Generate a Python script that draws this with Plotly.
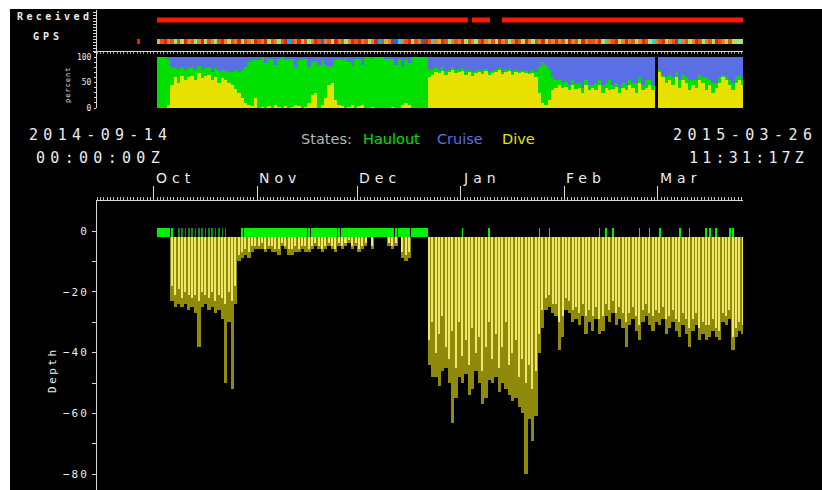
import plotly.graph_objects as go
from datetime import datetime, timedelta

# ---------------------------------------------------------------- data
RANGE_START = "2014-09-14 00:00:00"
RANGE_END = "2015-03-26 11:31:17"

month_ticks = ["2014-10-01", "2014-11-01", "2014-12-01",
               "2015-01-01", "2015-02-01", "2015-03-01"]
month_labels = ["Oct", "Nov", "Dec", "Jan", "Feb", "Mar"]

# periods with messages received
received_windows = [("2014-10-02 00:00", "2015-01-03 02:00"),
                    ("2015-01-04 07:00", "2015-01-09 17:00"),
                    ("2015-01-13 07:00", RANGE_END)]

# GPS fixes per day, starting 2014-09-26
GPS_FIRST_DAY = datetime(2014, 9, 26)
gps_fixes = [10, None, None, None, None, None,
             7, 9, 10, 8, 9, 5, 9, 6, 10, 8,
             9, 5, 8, 10, 6, 9, 8, 5, 9, 10,
             8, 6, 9, 8, 10, 5, 9, 8, 7, 10,
             9, 8, 10, 6, 9, 8, 5, 9, 10, 2,
             9, 8, 10, 7, 9, 5, 8, 10, 9, 1,
             8, 9, 6, 10, 8, 9, 5, 8, 10, 9,
             10, 8, 9, 6, 8, 10, 2, 9, 7, 8,
             10, 1, 3, 8, 9, 10, 6, 9, 8, 1,
             10, 9, 3, 8, 7, 10, 9, 5, 8, 9,
             8, 10, 6, 9, 8, 5, 9, 10, 8, 7,
             9, 6, 10, 8, 9, 5, 8, 10, 9, 6,
             10, 8, 5, 9, 8, 10, 6, 9, 8, 10,
             8, 9, 5, 10, 8, 9, 6, 10, 8, 9,
             9, 8, 10, 6, 3, 8, 9, 10, 6, 8,
             10, 8, 9, 6, 8, 10, 9, 5, 3, 8,
             9, 10, 6, 8, 9, 10, 3, 8, 9, 6,
             8, 10, 9, 5, 8, 9, 6, 10, 9, 8,
             6, 9, 6, 6, 5, 6]

# daily series below start on 2014-10-02
FIRST_DAY = datetime(2014, 10, 2)

# percent of each day spent diving / cruising (haulout is the rest)
dive_pct = [0, 0, 0, 5, 45, 60, 50, 62, 55, 60,
            62, 55, 68, 58, 62, 65, 55, 60, 50, 58,
            55, 50, 45, 38, 30, 20, 10, 5, 3, 20,
            0, 2, 0, 3, 0, 5, 2, 0, 3, 0,
            2, 5, 3, 0, 2, 10, 25, 30, 0, 5,
            20, 45, 50, 15, 5, 3, 0, 2, 5, 0,
            3, 5, 0, 0, 2, 0, 0, 0, 0, 0,
            2, 0, 0, 5, 10, 5, 0, 0, 0, 0,
            0, 60, 65, 70, 68, 72, 65, 70, 75, 68,
            70, 72, 65, 70, 62, 68, 70, 66, 72, 64,
            68, 70, 74, 66, 70, 72, 65, 70, 68, 72,
            70, 66, 68, 60, 30, 10, 5, 15, 35, 40,
            45, 40, 42, 35, 45, 38, 40, 30, 45, 35,
            40, 35, 45, 30, 40, 35, 38, 42, 30, 40,
            35, 45, 40, 30, 50, 35, 40, 45, 35, None,
            70, 60, 50, 55, 45, 60, 40, 55, 50, 35,
            45, 40, 55, 50, 35, 45, 30, 40, 50, 60,
            55, 45, 35, 50, 55, 45]
cruise_pct = [0, 0, 0, 5, 20, 22, 25, 20, 25, 22,
              20, 25, 18, 25, 22, 20, 30, 22, 28, 25,
              28, 30, 30, 25, 30, 25, 20, 10, 5, 5,
              5, 0, 12, 3, 3, 15, 3, 0, 5, 3,
              3, 20, 5, 3, 3, 20, 10, 8, 15, 5,
              15, 20, 18, 5, 3, 5, 3, 10, 18, 3,
              3, 15, 0, 0, 3, 0, 0, 0, 2, 3,
              3, 15, 3, 20, 5, 12, 0, 0, 0, 0,
              0, 25, 25, 22, 25, 20, 28, 25, 20, 25,
              25, 22, 28, 25, 30, 27, 25, 28, 24, 30,
              28, 25, 22, 30, 26, 24, 30, 25, 28, 25,
              27, 30, 26, 30, 20, 10, 15, 25, 40, 45,
              45, 50, 48, 55, 45, 52, 50, 60, 45, 55,
              55, 50, 45, 55, 50, 45, 55, 50, 60, 50,
              55, 45, 50, 50, 40, 55, 45, 45, 55, None,
              25, 35, 40, 35, 40, 30, 45, 35, 40, 45,
              45, 45, 35, 40, 40, 45, 50, 50, 40, 35,
              40, 45, 50, 40, 38, 45]

# hours hauled out per day
haulout_hours = [20, 24, 24, 24, 12, 0, 3, 3, 3, 3,
                 3, 3, 3, 3, 3, 3, 3, 3, 3, 3,
                 3, 0, 0, 0, 0, 10, 24, 24, 18, 24,
                 24, 18, 24, 24, 24, 24, 24, 18, 24, 24,
                 18, 24, 24, 24, 24, 16, 18, 24, 24, 24,
                 24, 24, 16, 18, 16, 24, 24, 24, 18, 24,
                 24, 18, 24, 24, 24, 24, 24, 24, 24, 24,
                 24, 18, 24, 24, 24, 18, 24, 24, 24, 24,
                 24, 0, 0, 0, 0, 0, 0, 0, 0, 0,
                 0, 5, 0, 0, 0, 0, 0, 0, 0, 5,
                 0, 0, 0, 0, 0, 0, 0, 0, 0, 0,
                 0, 0, 0, 0, 5, 0, 0, 6, 0, 0,
                 0, 0, 0, 0, 0, 0, 0, 0, 0, 0,
                 0, 0, 6, 0, 5, 0, 6, 0, 0, 0,
                 0, 0, 0, 0, 6, 0, 0, 5, 0, 0,
                 6, 0, 0, 0, 0, 0, 6, 0, 0, 5,
                 0, 0, 0, 0, 6, 5, 0, 7, 0, 0,
                 0, 6, 5, 0, 0, 0]

# deepest dive of the day (m)
depth_max = [None, None, None, None, -23, -25, -24, -25, -24, -26,
             -25, -27, -38, -25, -24, -26, -25, -27, -26, -29,
             -50, -30, -52, -24, -10, -9, -8, -9, -7, -6,
             -6, -6, -7, -6, -7, -7, -8, -5, -6, -8,
             -8, -7, -7, -6, -7, -7, -6, -5, -6, -7,
             -6, -5, -6, -7, -5, -6, -5, -4, -6, -5,
             -7, -6, -5, None, -6, None, None, None, None, -5,
             -6, -5, None, -9, -10, -9, None, None, None, None,
             None, -44, -48, -48, -51, -46, -45, -50, -63, -55,
             -48, -50, -47, -54, -52, -46, -50, -57, -55, -49,
             -50, -48, -53, -50, -52, -54, -56, -55, -58, -60,
             -80, -62, -69, -61, -40, -32, -26, -25, -27, -28,
             -39, -35, -26, -27, -30, -29, -31, -28, -34, -30,
             -33, -29, -34, -33, -28, -30, -27, -31, -29, -32,
             -38, -31, -29, -33, -36, -30, -28, -31, -33, -30,
             -31, -29, -34, -32, -30, -33, -35, -31, -34, -38,
             -33, -31, -36, -34, -36, -35, -33, -35, -36, -30,
             -31, -29, -39, -35, -33, -34]

# typical dive depth of the day (m)
depth_typ = [None, None, None, None, -18, -21, -19, -22, -20, -21,
             -22, -21, -23, -20, -21, -22, -20, -23, -21, -22,
             -24, -20, -23, -18, -8, -7, -6, -7, -5, -5,
             -5, -4, -6, -5, -5, -6, -6, -4, -5, -6,
             -6, -5, -6, -5, -5, -6, -5, -4, -5, -6,
             -5, -4, -5, -6, -4, -5, -4, -3, -5, -4,
             -6, -5, -4, None, -5, None, None, None, None, -4,
             -5, -4, None, -7, -8, -7, None, None, None, None,
             None, -36, -30, -40, -34, -28, -38, -42, -33, -45,
             -30, -41, -36, -44, -32, -40, -35, -46, -38, -30,
             -42, -34, -45, -38, -30, -44, -40, -36, -48, -42,
             -50, -44, -52, -46, -34, -26, -22, -21, -24, -24,
             -30, -28, -22, -23, -26, -25, -27, -24, -28, -26,
             -28, -25, -29, -28, -24, -26, -23, -27, -25, -27,
             -30, -27, -25, -28, -31, -26, -24, -27, -28, -26,
             -27, -25, -29, -28, -26, -29, -30, -27, -29, -32,
             -29, -27, -32, -30, -31, -31, -29, -32, -33, -27,
             -28, -26, -35, -32, -30, -31]

# ---------------------------------------------------------------- layout helpers
W, H = 822, 490
DAY_MS = 86400000
SURFACE = -2          # dive bars hang from this depth
X0, X1 = 97, 743      # time axis pixel span


def fx(px):
    return px / W


def fy(py):
    return 1 - py / H


def spaced(text, px):
    return f'<span style="letter-spacing:{px}px">{text}</span>'


days = [FIRST_DAY + timedelta(days=i) for i in range(len(dive_pct))]
centers = [d + timedelta(hours=12) for d in days]

AXIS = "#d8d8d8"
TEXT = "#ececec"
MONO = "DejaVu Sans Mono"

fig = go.Figure()

# ---------------------------------------------------------------- received / GPS strip
rx, ry = [], []
for a, b in received_windows:
    rx += [a, b, None]
    ry += [31, 31, None]
fig.add_trace(go.Scatter(x=rx, y=ry, mode="lines", line=dict(color="#ff1800", width=5),
                         xaxis="x3", yaxis="y3", hoverinfo="skip"))

gps_edges = [GPS_FIRST_DAY + timedelta(days=i) for i in range(len(gps_fixes) + 1)]
fig.add_trace(go.Heatmap(
    z=[gps_fixes], x=gps_edges, y=[7, 12], zmin=0, zmax=10, showscale=False,
    colorscale=[[0, "#1030ff"], [0.2, "#00b0ff"], [0.4, "#60f0a0"], [0.55, "#a0f070"],
                [0.65, "#c8d040"], [0.8, "#f08020"], [1, "#f02000"]],
    xaxis="x3", yaxis="y3", hoverinfo="skip"))

# ---------------------------------------------------------------- percent stack
haul_pct = [None if d is None else 100 - d - c for d, c in zip(dive_pct, cruise_pct)]
base_haul = [None if d is None else d for d in dive_pct]
base_cruise = [None if d is None else d + h for d, h in zip(dive_pct, haul_pct)]
for vals, base, color in [(dive_pct, [0] * len(days), "#e8e000"),
                          (haul_pct, base_haul, "#00e000"),
                          (cruise_pct, base_cruise, "#5a6ee6")]:
    fig.add_trace(go.Bar(x=centers, y=vals, base=base, width=DAY_MS,
                         marker=dict(color=color, line=dict(width=0)),
                         xaxis="x2", yaxis="y2", hoverinfo="skip"))

# ---------------------------------------------------------------- depth panel
fig.add_trace(go.Bar(
    x=centers, y=[3 if h else None for h in haulout_hours], base=SURFACE,
    width=[h / 24 * DAY_MS for h in haulout_hours],
    marker=dict(color=["#00f000" if h > 4 else "#0a8a12" for h in haulout_hours],
                line=dict(width=0)),
    hoverinfo="skip"))
fig.add_trace(go.Bar(
    x=centers, y=[None if v is None else v - SURFACE for v in depth_max], base=SURFACE,
    width=DAY_MS, marker=dict(color="#8f890c", line=dict(width=0)), hoverinfo="skip"))
fig.add_trace(go.Bar(
    x=centers, y=[None if v is None else v - SURFACE for v in depth_typ], base=SURFACE,
    width=DAY_MS * 0.45, marker=dict(color="#efe866", line=dict(width=0)), hoverinfo="skip"))

# ---------------------------------------------------------------- axes
xdom = [fx(X0), fx(X1)]
fig.update_layout(
    width=W, height=H, autosize=False, margin=dict(l=0, r=0, t=0, b=0, pad=0),
    paper_bgcolor="black", plot_bgcolor="rgba(0,0,0,0)",
    showlegend=False, barmode="overlay", bargap=0,
    xaxis=dict(domain=xdom, anchor="y", side="top", type="date", automargin=False,
               range=[RANGE_START, RANGE_END], showgrid=False, zeroline=False,
               showline=True, linecolor=AXIS, linewidth=1,
               tickvals=month_ticks, showticklabels=False,
               ticks="outside", ticklen=14, tickcolor=AXIS, tickwidth=1,
               minor=dict(dtick=DAY_MS, tick0=RANGE_START, ticks="outside",
                          ticklen=3, tickcolor="#bdbdbd", showgrid=False)),
    yaxis=dict(domain=[0, fy(201)], anchor="x", range=[-85.2, 9.87], automargin=False,
               showgrid=False, zeroline=False, showline=True, linecolor=AXIS,
               tickvals=[0, -20, -40, -60, -80],
               ticktext=[spaced(t, 2) for t in ["0", "−20", "−40", "−60", "−80"]],
               ticks="outside", ticklen=4, tickcolor=AXIS, ticklabelstandoff=1,
               tickfont=dict(family=MONO, size=11, color=TEXT),
               minor=dict(dtick=10, ticks="outside", ticklen=4, tickcolor=AXIS,
                          showgrid=False)),
    xaxis2=dict(domain=xdom, anchor="y2", matches="x", showgrid=False, zeroline=False,
                automargin=False, showline=False, showticklabels=False, ticks=""),
    yaxis2=dict(domain=[fy(108), fy(52)], anchor="x2", range=[0, 110], automargin=False,
                showgrid=False, zeroline=False, showline=True, linecolor=AXIS,
                tickvals=[0, 50, 100], ticks="outside", ticklen=2, tickcolor=AXIS,
                ticklabelstandoff=1,
                tickfont=dict(family=MONO, size=8, color=TEXT),
                minor=dict(dtick=10, ticks="outside", ticklen=2, tickcolor=AXIS,
                           showgrid=False)),
    xaxis3=dict(domain=xdom, anchor="y3", matches="x", showgrid=False, zeroline=False,
                automargin=False, showline=True, linecolor=AXIS, showticklabels=False,
                dtick=DAY_MS, tick0=RANGE_START, ticks="outside", ticklen=2,
                tickcolor="#9a9a9a"),
    yaxis3=dict(domain=[fy(51), fy(10)], anchor="x3", range=[0, 41], automargin=False,
                showgrid=False, zeroline=False, showline=True, linecolor=AXIS,
                showticklabels=False, dtick=3, ticks="outside", ticklen=3,
                tickcolor=AXIS),
)

# ---------------------------------------------------------------- text
ann = []


def label(text, px, py, size, color=TEXT, family=MONO, xanchor="left", angle=0):
    ann.append(dict(text=text, x=fx(px), y=fy(py), xref="paper", yref="paper",
                    xanchor=xanchor, yanchor="middle", showarrow=False,
                    borderpad=0, textangle=angle,
                    font=dict(family=family, size=size, color=color)))


label(spaced("<b>Received</b>", 3.4), 16, 16.5, 10)
label(spaced("<b>GPS</b>", 4), 32, 36, 10)
label(spaced("percent", 1), 68, 85, 7, angle=-90, xanchor="center")
label(spaced("2014-09-14", 5.3), 28, 135, 15)
label(spaced("00:00:00Z", 5.3), 35, 158, 15)
label(spaced("2015-03-26", 5.4), 672, 135, 15)
label(spaced("11:31:17Z", 4.2), 688, 158, 15)
for word, px, color in [("States:", 300, "#b8b8b8"), ("Haulout", 362, "#00e000"),
                        ("Cruise", 436, "#5a6ee6"), ("Dive", 501, "#e8e000")]:
    label(word, px, 139, 14.5, color=color, family="DejaVu Sans")
for m, lbl in zip(month_ticks, month_labels):
    ann.append(dict(text=spaced(lbl, 5), x=m, xref="x", y=fy(177.5), yref="paper",
                    xanchor="left", yanchor="middle", xshift=1, showarrow=False,
                    borderpad=0, font=dict(family="DejaVu Sans", size=14, color=TEXT)))
label(spaced("Depth", 2.5), 52, 370, 11, angle=-90, xanchor="center")

# white page edge on the left and top
fig.update_layout(annotations=ann,
                  shapes=[dict(type="rect", xref="paper", yref="paper", x0=0, x1=fx(10),
                               y0=0, y1=1, fillcolor="white", line_width=0, layer="above"),
                          dict(type="rect", xref="paper", yref="paper", x0=0, x1=1,
                               y0=fy(9), y1=1, fillcolor="white", line_width=0,
                               layer="above")])

fig.write_html("out.html", config={"responsive": False})
